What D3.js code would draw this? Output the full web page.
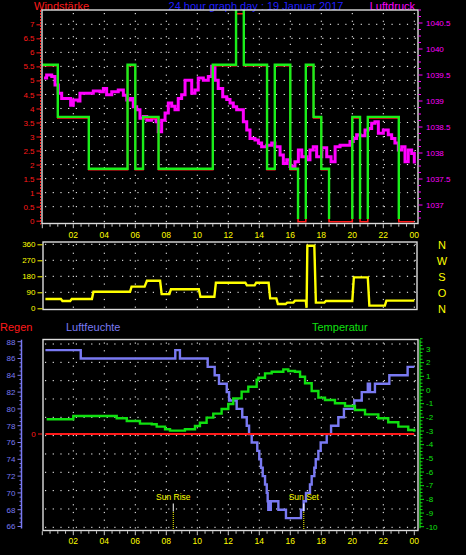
<!DOCTYPE html>
<html><head><meta charset="utf-8">
<script src="https://cdn.jsdelivr.net/npm/d3@7"></script>
<style>html,body{margin:0;padding:0;background:#000;overflow:hidden}svg{display:block}text{font-family:"Liberation Sans",Arial,sans-serif}</style>
</head><body><svg id="c" width="466" height="555"></svg>
<script>
// ---------------- DATA ----------------
const titleText = "24 hour graph day : 19 Januar 2017";
const hourTicks = [2,4,6,8,10,12,14,16,18,20,22,24];
const hourLabels = ["02","04","06","08","10","12","14","16","18","20","22","00"];

// wind (km/h), one value per half hour, step-after
const windMean = [5.56,5.56,3.7,3.7,3.7,3.7,1.85,1.85,1.85,1.85,1.85,5.56,1.85,3.7,3.7,1.85,1.85,1.85,1.85,1.85,1.85,1.85,5.56,5.56,5.56,9.26,5.56,5.56,5.56,1.85,5.56,5.56,1.85,0,5.56,3.7,1.85,0,0,0,3.7,0,3.7,3.7,3.7,3.7,0,0];
const windGust = [5.56,5.56,3.7,3.7,3.7,3.7,1.85,1.85,1.85,1.85,1.85,5.56,1.85,3.7,3.7,1.85,1.85,1.85,1.85,1.85,1.85,1.85,5.56,5.56,5.56,7.41,5.56,5.56,5.56,1.85,5.56,5.56,1.85,0,5.56,3.7,1.85,0,0,0,3.7,0,3.7,3.7,3.7,3.7,0,0];
const windTickValues = [0,0.5,1,1.5,2,2.5,3,3.5,4,4.5,5,5.5,6,6.5,7];

// pressure (hPa)
const pressTimes = [0.11,0.28,0.61,0.82,1.03,1.25,1.57,1.83,2.0,2.32,2.43,2.86,3.29,3.72,3.94,4.15,4.48,4.9,5.23,5.45,5.7,5.87,6.09,6.3,6.52,6.74,7.06,7.34,7.48,7.7,7.92,8.13,8.35,8.56,8.77,8.99,9.21,9.42,9.64,9.85,10.06,10.39,10.71,10.93,11.14,11.35,11.64,11.9,12.11,12.32,12.54,12.75,12.97,13.19,13.4,13.72,13.94,14.15,14.48,14.8,15.01,15.34,15.55,15.77,15.98,16.3,16.52,16.74,17.06,17.27,17.48,17.7,18.03,18.35,18.63,18.89,19.21,19.53,19.85,20.06,20.28,20.5,20.82,21.03,21.25,21.46,21.68,22.0,22.32,22.54,22.75,22.97,23.19,23.4,23.61,23.83,24.0];
const pressValues = [1039.44,1039.5,1039.47,1039.31,1039.15,1039.05,1039.05,1038.92,1039.02,1039.0,1039.15,1039.15,1039.19,1039.18,1039.24,1039.12,1039.18,1039.21,1039.11,1039.02,1039.05,1038.89,1038.83,1038.67,1038.7,1038.63,1038.67,1038.6,1038.41,1038.63,1038.77,1038.96,1038.9,1038.83,1039.05,1039.12,1039.4,1039.4,1039.15,1039.21,1039.44,1039.4,1039.47,1039.67,1039.4,1039.24,1039.08,1039.03,1038.96,1038.89,1038.83,1038.83,1038.6,1038.44,1038.28,1038.25,1038.19,1038.12,1038.15,1038.19,1038.12,1037.96,1037.8,1037.87,1037.74,1037.83,1038.06,1037.93,1037.87,1038.06,1038.12,1037.93,1038.1,1037.93,1037.83,1038.12,1038.15,1038.15,1038.22,1038.28,1038.35,1038.33,1038.44,1038.47,1038.57,1038.6,1038.38,1038.44,1038.35,1038.28,1038.19,1038.06,1038.12,1037.83,1038.06,1037.99,1037.8];
const pressTickValues = [1037,1037.5,1038,1038.5,1039,1039.5,1040,1040.5];

// wind direction (degrees)
const dirTimes = [0.2,1.2,1.3,1.8,1.9,3.2,3.3,5.66,5.76,6.6,6.75,7.6,7.7,8.2,8.3,10.1,10.2,11.1,11.2,13.1,13.2,13.7,13.8,14.6,14.7,15.1,15.2,15.7,15.8,16.2,16.3,17.0,17.05,17.1,17.55,17.65,18.2,18.3,20.0,20.1,21.0,21.1,22.1,22.2,24.0];
const dirValues = [52,52,41,41,52,52,93,93,122,122,155,155,80,80,107,107,65,65,144,144,129,129,144,144,56,56,24,24,32,32,43,43,3,352,352,32,32,41,41,174,174,15,15,43,43];
const dirTickValues = [0,90,180,270,360];
const dirLabels = ["N","O","S","W","N"];

// humidity (%)
const humTimes = [0.2,2.48,8.58,8.88,10.67,11.12,11.4,11.9,12.05,12.54,12.9,13.19,13.34,13.51,13.87,14.0,14.11,14.22,14.37,14.48,14.54,14.58,14.66,14.69,14.74,15.23,15.72,16.69,16.86,17.01,17.27,17.38,17.55,17.64,17.81,17.96,18.35,18.63,19.1,19.46,20.13,20.61,21.0,21.14,21.46,22.39,23.57,24];
const humValues = [87,86,87,86,85,84,83,82,81,80,79,78,77,76,75,74,73,72,71,70,69,68,69,68,69,68,67,68,69,70,71,72,73,74,75,76,77,78,79,80,81,82,83,82,83,84,85,85];
const humTickValues = [66,68,70,72,74,76,78,80,82,84,86,88];

// temperature (°C)
const tempTimes = [0.28,2.0,4.7,4.8,5.45,6.3,7.06,7.38,7.92,8.24,9.2,9.85,10.17,10.6,11.03,11.57,12.0,12.32,12.86,13.29,13.83,13.94,14.37,14.8,15.55,15.87,16.3,16.63,16.95,17.38,17.81,18.24,18.88,19.53,20.17,20.82,21.68,22.32,22.97,23.61,24.0];
const tempValues = [-2.14,-1.9,-1.9,-2.07,-2.27,-2.46,-2.5,-2.68,-2.87,-2.97,-2.87,-2.63,-2.39,-2.02,-1.73,-1.39,-1.02,-0.61,-0.12,0.24,0.75,0.9,1.22,1.34,1.51,1.39,1.34,0.97,0.49,-0.07,-0.56,-0.73,-0.97,-1.17,-1.46,-1.78,-2.07,-2.36,-2.68,-2.93,-3.05];
const tempTickValues = [-10,-9,-8,-7,-6,-5,-4,-3,-2,-1,0,1,2,3];

// rain (mm)
const rainTimes = [0.2,24];
const rainValues = [0,0];

const sunRise = 8.45, sunSet = 16.87;

// ---------------- LAYOUT ----------------
const W = 466, H = 555;
const L = 42, R = 418;
const P1 = {t:10, b:223.5}, P2 = {t:242, b:309.5}, P3 = {t:339.5, b:530.5};

const x = d3.scaleLinear([0,24],[42.3,414.3]);
const yWind = d3.scaleLinear([0,7],[220.7,24.3]);
const yPress = d3.scaleLinear([1037,1040.5],[205,23]);
const yDir = d3.scaleLinear([0,360],[308.3,244.3]);
const yHum = d3.scaleLinear([66,88],[526.5,341.7]);
const yTemp = d3.scaleLinear([-10,3],[526.7,349]);
const yRain = d3.scaleLinear([0,10],[434,341.7]);
const yGrid3 = d3.scaleLinear([0,10],[527.3,344]);

const RED="#ff1a1a", MAG="#ff00ff", YEL="#ffff00", GRN="#1aee1a", BLU="#7a7af2", TGRN="#10e010", BORDER="#dcdcdc";

const svg = d3.select("#c");
svg.append("rect").attr("width",W).attr("height",H).attr("fill","#000");
const defs = svg.append("defs");
defs.append("clipPath").attr("id","clipTop").append("rect").attr("x",L).attr("y",P1.t).attr("width",R-L).attr("height",P1.b-P1.t);
defs.append("clipPath").attr("id","clipGreen").append("rect").attr("x",L).attr("y",P1.t).attr("width",R-L).attr("height",yWind(0)-1.6-P1.t);

function txt(g, xx, yy, s, color, size, anchor){
  return g.append("text").attr("x",xx).attr("y",yy).attr("fill",color).attr("font-size",size)
    .attr("text-anchor",anchor||"start").attr("dy","0.35em").text(s);
}
function dotH(g, yy){ g.append("line").attr("x1",L+3).attr("x2",R-1).attr("y1",yy).attr("y2",yy)
  .attr("stroke","#fff").attr("stroke-width",1).attr("stroke-dasharray","1.2,6.5"); }
function dotV(g, xx, y0, y1){ g.append("line").attr("x1",xx).attr("x2",xx).attr("y1",y0+3).attr("y2",y1-1)
  .attr("stroke","#fff").attr("stroke-width",1).attr("stroke-dasharray","1.2,6.5"); }
function xTicks(g, yb){
  d3.range(0,24.01,0.5).forEach(h=>{
    const major = h%2===0;
    g.append("line").attr("x1",x(h)).attr("x2",x(h)).attr("y1",yb).attr("y2",yb+(major?4:2.5))
      .attr("stroke","#cfcfcf").attr("stroke-width",1);
  });
}

// ---------------- TITLES ----------------
const gT = svg.append("g");
txt(gT, 34, 6, "Windstärke", RED, 11);
txt(gT, 256, 6, titleText, "#1f1fff", 11, "middle");
txt(gT, 415, 6, "Luftdruck", MAG, 11, "end");

// ---------------- PANEL 1 ----------------
const g1 = svg.append("g");
windTickValues.forEach(v=>{ if(v>0) dotH(g1, yWind(v)); });
hourTicks.forEach(h=>dotV(g1, x(h), P1.t, P1.b));

// pressure
const pressData = pressTimes.map((t,i)=>[t,pressValues[i]]);
g1.append("path").datum(pressData).attr("clip-path","url(#clipTop)")
  .attr("d", d3.line().x(d=>x(d[0])).y(d=>yPress(d[1])).curve(d3.curveStepAfter))
  .attr("fill","none").attr("stroke",MAG).attr("stroke-width",3);

// wind
const halfHours = windMean.map((_,i)=>i/2);
const gustData = halfHours.map((t,i)=>[t,windGust[i]]).concat([[24,windGust[windGust.length-1]]]);
const meanData = halfHours.map((t,i)=>[t,windMean[i]]).concat([[24,windMean[windMean.length-1]]]);
const wline = d3.line().x(d=>x(d[0])).y(d=>yWind(d[1])).curve(d3.curveStepAfter);
g1.append("g").attr("clip-path","url(#clipTop)").append("path").datum(gustData)
  .attr("transform","translate(0,1)").attr("d",wline)
  .attr("fill","none").attr("stroke",RED).attr("stroke-width",1.6);
g1.append("g").attr("clip-path","url(#clipGreen)").append("path").datum(meanData)
  .attr("d",wline).attr("fill","none").attr("stroke",GRN).attr("stroke-width",2.4);

g1.append("rect").attr("x",L).attr("y",P1.t).attr("width",R-L).attr("height",P1.b-P1.t)
  .attr("fill","none").attr("stroke",BORDER).attr("stroke-width",1.4);
xTicks(g1, P1.b+0.7);
hourTicks.forEach((h,i)=>txt(g1, x(h), 235.5, hourLabels[i], YEL, 8.5, "middle"));

// wind axis (left)
g1.append("line").attr("x1",40.5).attr("x2",40.5).attr("y1",P1.t).attr("y2",P1.b+1)
  .attr("stroke",RED).attr("stroke-width",1).attr("stroke-dasharray","2,1");
const axW = g1.append("g").attr("transform","translate(40.5,0)")
  .call(d3.axisLeft(yWind).tickValues(windTickValues).tickSize(4).tickPadding(2).tickFormat(d=>String(d)));
axW.select(".domain").remove();
axW.selectAll("line").attr("stroke",RED);
axW.selectAll("text").attr("fill",RED).attr("font-size",8).attr("font-family","Liberation Sans, Arial, sans-serif");

// pressure axis (right)
d3.range(1036.75,1040.76,0.125).forEach(v=>{
  const major = Math.abs(v*2-Math.round(v*2))<1e-6;
  g1.append("line").attr("x1",418.5).attr("x2",418.5+(major?4:2.5)).attr("y1",yPress(v)).attr("y2",yPress(v))
    .attr("stroke",MAG).attr("stroke-width",1);
});
pressTickValues.forEach(v=>txt(g1, 426, yPress(v), String(v), MAG, 8));

// ---------------- PANEL 2 ----------------
const g2 = svg.append("g");
dirTickValues.forEach(v=>{ if(v>0) dotH(g2, yDir(v)); });
hourTicks.forEach(h=>dotV(g2, x(h), P2.t, P2.b));
const dirData = dirTimes.map((t,i)=>[t,dirValues[i]]);
g2.append("path").datum(dirData)
  .attr("d", d3.line().x(d=>x(d[0])).y(d=>yDir(d[1])))
  .attr("fill","none").attr("stroke",YEL).attr("stroke-width",2.4);
g2.append("rect").attr("x",L+1).attr("y",P2.t).attr("width",R-L-2).attr("height",P2.b-P2.t)
  .attr("fill","none").attr("stroke",BORDER).attr("stroke-width",1.4);
const axD = g2.append("g").attr("transform",`translate(${L+0.5},0)`)
  .call(d3.axisLeft(yDir).tickValues(dirTickValues).tickSize(5).tickPadding(2));
axD.select(".domain").remove();
axD.selectAll("line").attr("stroke",YEL);
axD.selectAll("text").attr("fill",YEL).attr("font-size",8).attr("font-family","Liberation Sans, Arial, sans-serif");
dirTickValues.forEach((v,i)=>txt(g2, 442, yDir(v)+1, dirLabels[i], YEL, 11, "middle"));

// ---------------- PANEL 3 ----------------
const g3 = svg.append("g");
txt(g3, 0, 327, "Regen", RED, 11);
txt(g3, 66, 327, "Luftfeuchte", BLU, 11);
txt(g3, 312, 327, "Temperatur", TGRN, 11);

d3.range(0,11).forEach(i=>dotH(g3, yGrid3(i)));
hourTicks.forEach(h=>dotV(g3, x(h), P3.t, P3.b));

const humData = humTimes.map((t,i)=>[t,humValues[i]]);
g3.append("path").datum(humData)
  .attr("d", d3.line().x(d=>x(d[0])).y(d=>yHum(d[1])).curve(d3.curveStepAfter))
  .attr("fill","none").attr("stroke",BLU).attr("stroke-width",2.4);
const tempData = tempTimes.map((t,i)=>[t,tempValues[i]]);
g3.append("path").datum(tempData)
  .attr("d", d3.line().x(d=>x(d[0])).y(d=>yTemp(d[1])).curve(d3.curveStepAfter))
  .attr("fill","none").attr("stroke",TGRN).attr("stroke-width",2.4);
const rainData = rainTimes.map((t,i)=>[t,rainValues[i]]);
g3.append("path").datum(rainData)
  .attr("d", d3.line().x(d=>x(d[0])).y(d=>yRain(d[1])))
  .attr("fill","none").attr("stroke",RED).attr("stroke-width",2);

// sun markers
[[sunRise,"Sun Rise"],[sunSet,"Sun Set"]].forEach(([h,s])=>{
  txt(g3, x(h), 497.5, s, YEL, 8.5, "middle");
  g3.append("line").attr("x1",x(h)).attr("x2",x(h)).attr("y1",503.5).attr("y2",511.5).attr("stroke","#fff").attr("stroke-width",1);
  g3.append("line").attr("x1",x(h)).attr("x2",x(h)).attr("y1",512).attr("y2",P3.b).attr("stroke",YEL).attr("stroke-width",1).attr("stroke-dasharray","1,1");
});

g3.append("rect").attr("x",L+1).attr("y",P3.t).attr("width",R-L-1).attr("height",P3.b-P3.t)
  .attr("fill","none").attr("stroke",BORDER).attr("stroke-width",1.4);
xTicks(g3, P3.b+0.7);
hourTicks.forEach((h,i)=>txt(g3, x(h), 541, hourLabels[i], YEL, 8.5, "middle"));

// humidity axis
g3.append("line").attr("x1",21.5).attr("x2",21.5).attr("y1",yHum(88)-2).attr("y2",yHum(66)+2).attr("stroke",BLU).attr("stroke-width",1.5);
d3.range(66,88.01,0.5).forEach(v=>{
  const major = v%2===0;
  g3.append("line").attr("x1",21.5).attr("x2",21.5-(major?4:2)).attr("y1",yHum(v)).attr("y2",yHum(v)).attr("stroke",BLU).attr("stroke-width",1);
});
humTickValues.forEach(v=>txt(g3, 15.5, yHum(v), String(v), BLU, 8, "end"));

// rain axis
g3.append("line").attr("x1",38).attr("x2",L).attr("y1",yRain(0)).attr("y2",yRain(0)).attr("stroke",RED).attr("stroke-width",1);
txt(g3, 33.5, yRain(0), "0", RED, 8, "middle");

// temperature axis
g3.append("line").attr("x1",420).attr("x2",420).attr("y1",yTemp(3.7)).attr("y2",yTemp(-10)+1.5).attr("stroke",TGRN).attr("stroke-width",1.2);
d3.range(-10,3.76,0.25).forEach(v=>{
  const major = Math.abs(v-Math.round(v))<1e-6;
  g3.append("line").attr("x1",420).attr("x2",420+(major?4:2.5)).attr("y1",yTemp(v)).attr("y2",yTemp(v)).attr("stroke",TGRN).attr("stroke-width",1);
});
tempTickValues.forEach(v=>txt(g3, 426, yTemp(v), String(v), TGRN, 8));
</script></body></html>
